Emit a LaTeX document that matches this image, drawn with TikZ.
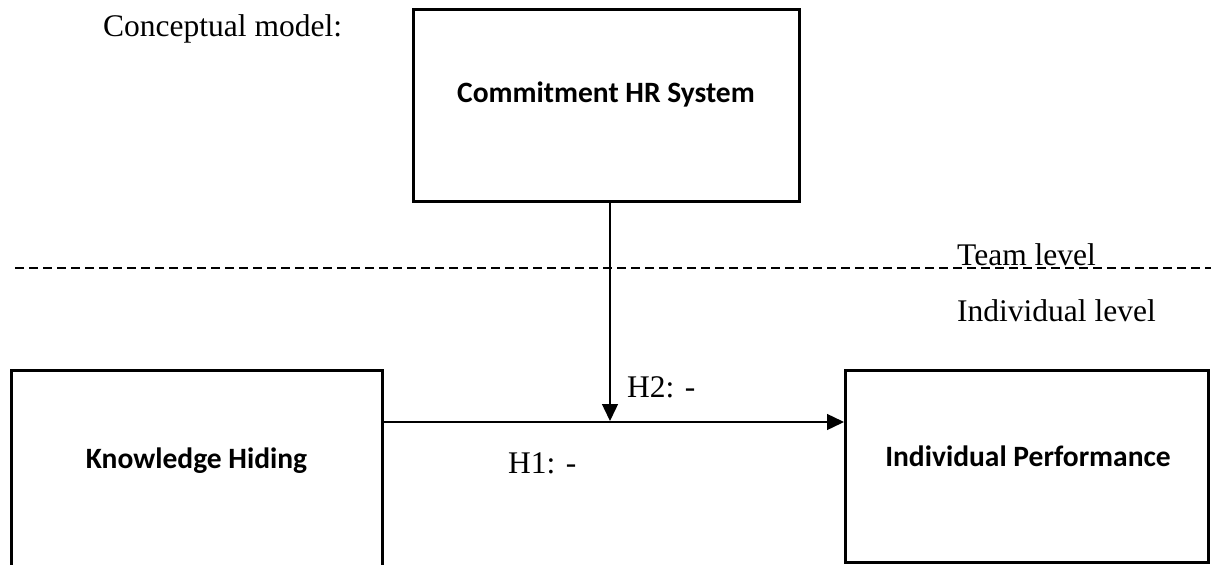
\documentclass[tikz,border=0pt]{standalone}
\usepackage{fontspec}
\setmainfont{Liberation Serif}
\newfontfamily\boxfont{Carlito}
\usetikzlibrary{arrows.meta}
\tikzset{
  x=1pt, y=-1pt,
  boxstyle/.style={draw=black, line width=3pt, inner sep=0pt},
  boxlabel/.style={font=\boxfont\fontsize{29.5}{34}\selectfont\bfseries, anchor=base},
  plainlabel/.style={font=\fontsize{31.5}{36}\selectfont, anchor=base west, inner sep=0pt},
  conn/.style={line width=1.4pt, -{Triangle[length=17pt,width=16pt]}},
}
\begin{document}
\begin{tikzpicture}
\useasboundingbox (0,0) rectangle (1211,565);
\clip (0,0) rectangle (1211,565);
\fill[white] (0,0) rectangle (1211,565);
% boxes
\draw[boxstyle] (413,9) rectangle (799,201);
\draw[boxstyle] (11,370) rectangle (382,590);
\draw[boxstyle] (845,370) rectangle (1208,562);
\node[boxlabel] (chr) at (606,102) {Commitment HR System};
\node[boxlabel] (kh) at (196.5,468) {Knowledge Hiding};
\node[boxlabel] (ip) at (1028,466) {Individual Performance};
% named anchor points
\coordinate (khR) at (384,422);
\coordinate (ipL) at (844,422);
\coordinate (chrB) at (610,202);
\coordinate (mid) at (610,421);
% dashed line
\coordinate (dl) at (15,268);
\coordinate (dr) at (1211,268);
\draw[line width=2pt, dash pattern=on 9pt off 5pt] (dl) -- (dr);
% arrows
\draw[conn] (khR) -- (ipL);
\draw[conn] (chrB) -- (mid);
% labels
\node[plainlabel] (cm) at (103,36) {Conceptual model:};
\node[plainlabel] (tl) at (957,265) {Team level};
\node[plainlabel] (il) at (957,321) {Individual level};
\node[plainlabel] (h2) at (627,397) {H2: -};
\node[plainlabel] (h1) at (508,473) {H1: -};
\end{tikzpicture}
\end{document}
